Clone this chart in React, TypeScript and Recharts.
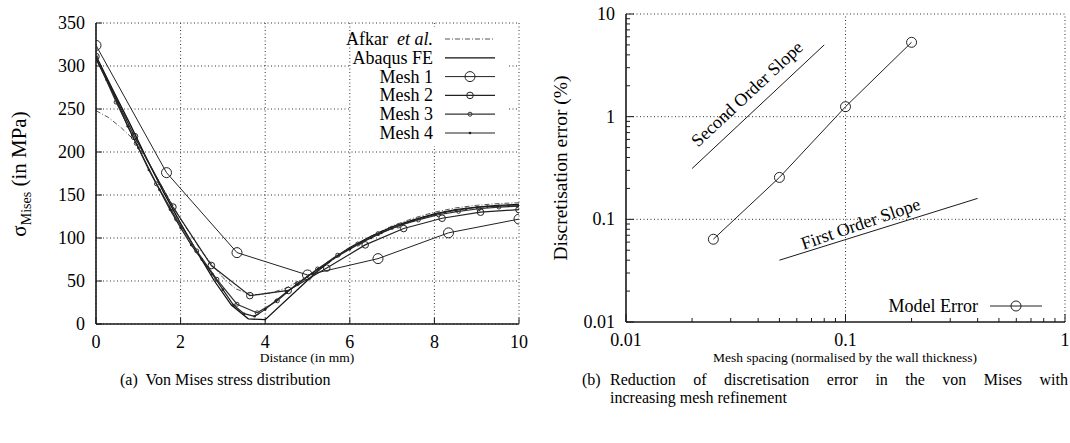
import { CartesianGrid, Legend, Line, LineChart, ReferenceDot, ReferenceLine, XAxis, YAxis } from 'recharts';

const SERIF = '"Liberation Serif", "Times New Roman", serif';
const INK = '#1a1a1a';
const DOTTED = '1 2.5';

// (a) von Mises stress along the distance
const distanceTicks = [0, 2, 4, 6, 8, 10];
const stressTicks = [0, 50, 100, 150, 200, 250, 300, 350];

const afkarX = [0, 0.3, 0.6, 0.9, 1.2, 1.5, 2, 2.5, 3, 3.3, 3.6, 3.9, 4.2, 4.5, 5, 5.5, 6, 6.5, 7, 7.5, 8, 8.5, 9, 9.5, 10];
const afkarY = [248, 240, 228, 214, 191, 165, 122, 84, 54, 41, 35, 34, 37, 42, 55, 71, 88, 102, 114, 123, 130, 135, 138, 140, 141];

const abaqusX = [0, 0.4, 0.8, 1.2, 1.6, 2, 2.4, 2.8, 3.2, 3.6, 4, 5.2, 5.6, 6, 6.5, 7, 7.5, 8, 8.5, 9, 9.5, 10];
const abaqusY = [312, 272, 233, 192, 153, 117, 83, 50, 22, 6, 5, 60, 76, 89, 102, 113, 121, 128, 133, 136, 138, 139];

const mesh1X = [0, 1.667, 3.333, 5, 6.667, 8.333, 10];
const mesh1Y = [324, 176, 83, 57, 76, 106, 122];

const mesh2X = [0, 0.909, 1.818, 2.727, 3.636, 4.545, 5.455, 6.364, 7.273, 8.182, 9.091, 10];
const mesh2Y = [311, 218, 136, 68, 33, 39, 65, 92, 111, 123, 130, 133];

const mesh3X = [0, 0.476, 0.952, 1.429, 1.905, 2.381, 2.857, 3.333, 3.81, 4.286, 4.762, 5.238, 5.714, 6.19, 6.667, 7.143, 7.619, 8.095, 8.571, 9.048, 9.524, 10];
const mesh3Y = [310, 258, 210, 163, 122, 85, 52, 23, 13, 27, 47, 64, 80, 93, 105, 114, 121, 127, 131, 134, 136, 137];

const mesh4X = [0, 0.25, 0.5, 0.75, 1, 1.25, 1.5, 1.75, 2, 2.25, 2.5, 2.75, 3, 3.25, 3.5, 3.75, 4, 4.25, 4.5, 4.75, 5, 5.25, 5.5, 5.75, 6, 6.25, 6.5, 6.75, 7, 7.25, 7.5, 7.75, 8, 8.25, 8.5, 8.75, 9, 9.25, 9.5, 9.75, 10];
const mesh4Y = [308, 284, 258, 230, 205, 179, 156, 133, 112, 92, 75, 58, 40, 22, 12, 9, 17, 27, 37, 46, 55, 64, 72, 80, 87, 94, 100, 106, 111, 116, 120, 124, 127, 130, 132, 134, 135.5, 136.5, 137, 137.5, 137.5];

// (b) discretisation error vs mesh spacing (log-log)
const spacingTicks = [0.01, 0.02, 0.03, 0.04, 0.05, 0.06, 0.07, 0.08, 0.09, 0.1, 0.2, 0.3, 0.4, 0.5, 0.6, 0.7, 0.8, 0.9, 1];
const errorTicks = [0.01, 0.02, 0.03, 0.04, 0.05, 0.06, 0.07, 0.08, 0.09, 0.1, 0.2, 0.3, 0.4, 0.5, 0.6, 0.7, 0.8, 0.9, 1, 2, 3, 4, 5, 6, 7, 8, 9, 10];

const meshSpacing = [0.025, 0.05, 0.1, 0.2];
const modelError = [0.064, 0.256, 1.25, 5.3];

const secondOrderX = [0.02, 0.08];
const secondOrderY = [0.3125, 5];
const firstOrderX = [0.05, 0.4];
const firstOrderY = [0.04, 0.16];

const pts = (xs: number[], ys: number[]) => xs.map((x, i) => ({ x, y: ys[i] }));

const isDecade = (v: number) => Math.abs(Math.log10(v) - Math.round(Math.log10(v))) < 1e-9;

type Series = {
  name: string;
  italic?: string;
  data: { x: number; y: number }[];
  stroke: string;
  width: number;
  dash?: string;
  dot: false | { r: number; fill: string; stroke: string; strokeWidth: number };
};

const stressSeries: Series[] = [
  { name: 'Afkar', italic: 'et al.', data: pts(afkarX, afkarY), stroke: '#555', width: 1, dash: '5 2 1 2', dot: false },
  { name: 'Abaqus FE', data: pts(abaqusX, abaqusY), stroke: '#111', width: 1.3, dot: false },
  { name: 'Mesh 1', data: pts(mesh1X, mesh1Y), stroke: '#222', width: 1, dot: { r: 5, fill: 'none', stroke: '#222', strokeWidth: 1 } },
  { name: 'Mesh 2', data: pts(mesh2X, mesh2Y), stroke: '#222', width: 1.2, dot: { r: 3.3, fill: 'none', stroke: '#222', strokeWidth: 1 } },
  { name: 'Mesh 3', data: pts(mesh3X, mesh3Y), stroke: '#333', width: 1.2, dot: { r: 2, fill: 'none', stroke: '#333', strokeWidth: 1 } },
  { name: 'Mesh 4', data: pts(mesh4X, mesh4Y), stroke: '#222', width: 1.2, dot: { r: 1.3, fill: '#222', stroke: '#222', strokeWidth: 0 } },
];

const tickText = { fontFamily: SERIF, fontSize: 18, fill: '#000' };

function BottomTick(props: any) {
  const { x, y, payload, minorLen = 4, majorLen = 6, logScale = false } = props;
  const v = payload.value as number;
  const major = logScale ? isDecade(v) : true;
  const axisY = y - 13;
  return (
    <g>
      <line x1={x} x2={x} y1={axisY} y2={axisY - (major ? majorLen : minorLen)} stroke={INK} />
      {major && (
        <text x={x} y={axisY + 24} textAnchor="middle" {...tickText}>
          {String(v)}
        </text>
      )}
    </g>
  );
}

function LeftTick(props: any) {
  const { x, y, payload, minorLen = 4, majorLen = 6, logScale = false } = props;
  const v = payload.value as number;
  const major = logScale ? isDecade(v) : true;
  const axisX = x + 11;
  return (
    <g>
      <line x1={axisX} x2={axisX + (major ? majorLen : minorLen)} y1={y} y2={y} stroke={INK} />
      {major && (
        <text x={x} y={y + 6} textAnchor="end" {...tickText}>
          {String(v)}
        </text>
      )}
    </g>
  );
}

function Marker({ dot, cx, cy }: { dot: Series['dot']; cx: number; cy: number }) {
  if (!dot) return null;
  return <circle cx={cx} cy={cy} r={dot.r} fill={dot.fill} stroke={dot.stroke} strokeWidth={dot.strokeWidth} />;
}

function StressKey() {
  // opaque key box, like gnuplot's
  return (
    <svg width={180} height={120} style={{ overflow: 'visible', display: 'block' }}>
      <rect x={21} y={0} width={156} height={119} fill="#fff" />
      {stressSeries.map((s, i) => {
        const cy = 12 + i * 18.8;
        return (
          <g key={s.name}>
            <text x={103} y={cy + 6} textAnchor="end" fontFamily={SERIF} fontSize={18} fill="#000">
              {s.name}
              {s.italic && <tspan fontStyle="italic">{'\u00a0\u00a0' + s.italic}</tspan>}
            </text>
            <line x1={115} x2={165} y1={cy} y2={cy} stroke={s.stroke} strokeWidth={s.width} strokeDasharray={s.dash} />
            <Marker dot={s.dot} cx={140} cy={cy} />
          </g>
        );
      })}
    </svg>
  );
}

function StressChart() {
  return (
    <LineChart width={540} height={360} margin={{ top: 23, right: 21, bottom: 0, left: 0 }}>
      <CartesianGrid stroke="#333" strokeDasharray={DOTTED} />
      <XAxis
        type="number"
        dataKey="x"
        domain={[0, 10]}
        ticks={distanceTicks}
        interval={0}
        height={36}
        tickSize={0}
        tickMargin={13}
        tickLine={false}
        axisLine={{ stroke: INK, strokeWidth: 1.6 }}
        tick={<BottomTick />}
        allowDataOverflow
      />
      <YAxis
        type="number"
        domain={[0, 350]}
        ticks={stressTicks}
        interval={0}
        width={96}
        tickSize={0}
        tickMargin={11}
        tickLine={false}
        axisLine={{ stroke: INK, strokeWidth: 1.6 }}
        tick={<LeftTick />}
        allowDataOverflow
      />
      {stressSeries.map((s) => (
        <Line
          key={s.name}
          data={s.data}
          dataKey="y"
          name={s.name}
          type="linear"
          stroke={s.stroke}
          strokeWidth={s.width}
          strokeDasharray={s.dash}
          dot={s.dot}
          activeDot={false}
          isAnimationActive={false}
        />
      ))}
      <Legend
        layout="horizontal"
        align="center"
        verticalAlign="middle"
        wrapperStyle={{ left: 330, top: 27, width: 180, height: 120 }}
        content={() => <StressKey />}
      />
    </LineChart>
  );
}

function ErrorKey() {
  return (
    <svg width={150} height={20} style={{ overflow: 'visible', display: 'block' }}>
      <text x={58} y={16} textAnchor="end" fontFamily={SERIF} fontSize={18} fill="#000">
        Model Error
      </text>
      <line x1={70} x2={122} y1={10} y2={10} stroke="#222" strokeWidth={1} />
      <circle cx={96} cy={10} r={5} fill="none" stroke="#222" />
    </svg>
  );
}

const slopeLabel = { fontFamily: SERIF, fontSize: 18, fill: '#000', position: 'center' as const };

function ErrorChart() {
  return (
    <LineChart width={530} height={360} margin={{ top: 14, right: 5, bottom: 0, left: 0 }}>
      <XAxis
        type="number"
        dataKey="x"
        scale="log"
        domain={[0.01, 1.00001]}
        ticks={spacingTicks}
        interval={0}
        height={38}
        tickSize={0}
        tickMargin={13}
        tickLine={false}
        axisLine={{ stroke: INK, strokeWidth: 1.6 }}
        tick={<BottomTick logScale majorLen={8} minorLen={4} />}
        allowDataOverflow
      />
      <YAxis
        type="number"
        scale="log"
        domain={[0.01, 10]}
        ticks={errorTicks}
        interval={0}
        width={86}
        tickSize={0}
        tickMargin={11}
        tickLine={false}
        axisLine={{ stroke: INK, strokeWidth: 1.6 }}
        tick={<LeftTick logScale majorLen={8} minorLen={4} />}
        allowDataOverflow
      />
      <ReferenceLine x={0.1} stroke="#333" strokeDasharray={DOTTED} />
      <ReferenceLine x={1} stroke="#333" strokeDasharray={DOTTED} />
      <ReferenceLine y={0.1} stroke="#333" strokeDasharray={DOTTED} />
      <ReferenceLine y={1} stroke="#333" strokeDasharray={DOTTED} />
      <ReferenceLine y={10} stroke="#333" strokeDasharray={DOTTED} />
      <Line data={pts(secondOrderX, secondOrderY)} dataKey="y" stroke={INK} strokeWidth={1} dot={false} activeDot={false} isAnimationActive={false} />
      <Line data={pts(firstOrderX, firstOrderY)} dataKey="y" stroke={INK} strokeWidth={1} dot={false} activeDot={false} isAnimationActive={false} />
      <Line
        data={pts(meshSpacing, modelError)}
        dataKey="y"
        name="Model Error"
        stroke="#222"
        strokeWidth={1}
        dot={{ r: 5, fill: 'none', stroke: '#222', strokeWidth: 1 }}
        activeDot={false}
        isAnimationActive={false}
      />
      <ReferenceDot x={0.0355} y={1.68} r={0} fill="none" stroke="none" label={{ ...slopeLabel, value: 'Second Order Slope', angle: -43 }} />
      <ReferenceDot x={0.117} y={0.0915} r={0} fill="none" stroke="none" label={{ ...slopeLabel, value: 'First Order Slope', angle: -19 }} />
      <Legend
        layout="horizontal"
        align="center"
        verticalAlign="middle"
        wrapperStyle={{ left: 380, top: 296, width: 150, height: 20 }}
        content={() => <ErrorKey />}
      />
    </LineChart>
  );
}

const abs = (left: number, top: number, extra: React.CSSProperties = {}): React.CSSProperties => ({
  position: 'absolute',
  left,
  top,
  whiteSpace: 'pre',
  ...extra,
});

const caption = { fontSize: 16, lineHeight: '18px' };

export default function App() {
  // fixed to the viewport so the page never grows a scrollbar that eats the right edge
  return (
    <div style={{ position: 'fixed', left: 0, top: 0, width: 1070, height: 443, background: '#fff', fontFamily: SERIF, color: '#000', overflow: 'hidden' }}>
      <div style={abs(0, 0)}>
        <StressChart />
      </div>
      <div style={abs(540, 0)}>
        <ErrorChart />
      </div>

      <div style={abs(307, 358, { fontSize: 13.5, transform: 'translate(-50%, -50%)' })}>Distance (in mm)</div>
      <div style={abs(845, 358, { fontSize: 13.5, transform: 'translate(-50%, -50%)' })}>Mesh spacing (normalised by the wall thickness)</div>

      <div style={abs(19, 174, { fontSize: 21, transform: 'translate(-50%, -50%) rotate(-90deg)' })}>
        σ<span style={{ fontSize: 14, position: 'relative', top: 5 }}>Mises</span> (in MPa)
      </div>
      <div style={abs(561, 168, { fontSize: 19.5, transform: 'translate(-50%, -50%) rotate(-90deg)' })}>Discretisation error (%)</div>

      <div style={abs(120, 371, caption)}>(a)  Von Mises stress distribution</div>
      <div style={abs(582, 371, caption)}>(b)</div>
      <div style={abs(610, 371, { ...caption, width: 458, whiteSpace: 'normal', textAlign: 'justify', textAlignLast: 'justify' })}>
        Reduction of discretisation error in the von Mises with
      </div>
      <div style={abs(610, 389, caption)}>increasing mesh refinement</div>
    </div>
  );
}
